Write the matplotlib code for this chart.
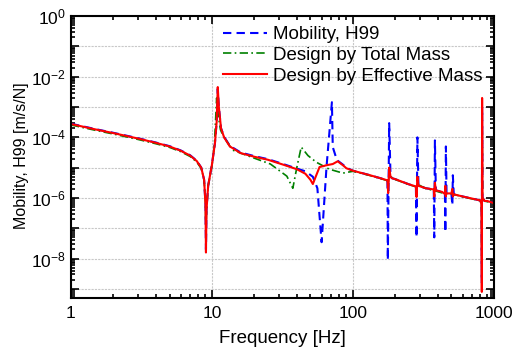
import matplotlib
matplotlib.use("Agg")
import matplotlib.pyplot as plt
import matplotlib.ticker as ticker
import numpy as np

plt.rcParams['font.family'] = ['Liberation Sans', 'DejaVu Sans']
plt.rcParams['mathtext.fontset'] = 'custom'
plt.rcParams['mathtext.rm'] = 'Liberation Sans'
plt.rcParams['mathtext.default'] = 'regular'

# --- data (frequency in Hz, mobility as log10 [m/s/N]) ---
freq_red = [1, 1.5, 2, 3, 4, 5, 6, 7, 7.8, 8.4, 8.8, 9.0, 9.07, 9.15, 9.4, 10, 10.5,
            10.8, 11.0, 11.2, 11.6, 12.2, 13.4, 16, 20, 25, 32, 40, 46, 50, 52, 55,
            58, 65, 72, 78, 85, 90, 100, 130, 160, 176, 178, 181, 185, 190, 200, 250,
            280, 283, 287, 292, 330, 375, 378, 382, 388, 430, 450, 453, 456, 460, 500,
            508, 512, 520, 600, 700, 800, 818, 822, 826, 832, 860, 900, 1000]
logm_red = [-3.56, -3.74, -3.86, -4.04, -4.18, -4.30, -4.44, -4.60, -4.78, -5.0, -5.4, -6.2, -7.8, -6.4, -5.6, -4.9, -4.2,
            -3.5, -2.34, -3.0, -3.7, -4.0, -4.3, -4.52, -4.64, -4.74, -4.9, -5.05, -5.2, -5.4, -5.54, -5.25,
            -4.98, -4.92, -4.88, -4.79, -4.92, -5.02, -5.1, -5.24, -5.36, -5.42, -5.84, -5.0, -5.3, -5.35, -5.38, -5.55,
            -5.62, -5.97, -5.3, -5.6, -5.68, -5.72, -5.95, -5.5, -5.75, -5.8, -5.87, -5.6, -5.95, -5.85, -5.85,
            -5.7, -5.95, -5.88, -5.95, -6.02, -6.08, -6.2, -9.1, -2.7, -6.0, -6.1, -6.1, -6.17]

freq_blue = [1, 1.5, 2, 3, 4, 5, 6, 7, 7.8, 8.4, 8.8, 9.0, 9.07, 9.15, 9.4, 10, 10.5,
             10.8, 11.0, 11.2, 11.6, 12.2, 13.4, 16, 20, 25, 32, 40, 46, 52, 56, 60,
             65, 71, 72, 77, 85, 90, 100, 130, 160, 176, 177, 181, 185, 190, 200, 250,
             280, 283, 287, 292, 330, 375, 378, 382, 388, 430, 450, 453, 457, 462, 500,
             508, 512, 520, 600, 700, 800, 818, 822, 826, 832, 860, 900, 1000]
logm_blue = [-3.55, -3.73, -3.85, -4.03, -4.17, -4.29, -4.43, -4.59, -4.77, -5.0, -5.4, -6.2, -7.7, -6.4, -5.6, -4.9, -4.2,
             -3.5, -2.4, -3.0, -3.7, -3.98, -4.28, -4.5, -4.62, -4.72, -4.88, -5.03, -5.12, -5.3, -5.68, -7.46,
             -4.98, -2.84, -4.32, -4.75, -4.9, -5.0, -5.1, -5.24, -5.36, -5.42, -8.05, -3.53, -5.3, -5.35, -5.38, -5.55,
             -5.62, -7.3, -4.0, -5.6, -5.68, -5.72, -7.3, -4.1, -5.75, -5.8, -5.87, -7.13, -4.3, -5.85, -5.85,
             -6.24, -5.25, -5.88, -5.95, -6.02, -6.08, -6.2, -8.8, -3.0, -6.0, -6.1, -6.1, -6.17]

freq_green = [1, 1.5, 2, 3, 4, 5, 6, 7, 7.8, 8.4, 8.8, 9.0, 9.07, 9.15, 9.4, 10, 10.4,
              10.8, 11.1, 11.5, 12, 14, 19, 26, 34, 37.5, 40, 43, 48, 55, 68, 85, 100,
              130, 160, 176, 178, 181, 185, 200, 250, 280, 284, 288, 330, 380, 450, 510,
              600, 700, 800, 818, 822, 826, 832, 860, 1000]
logm_green = [-3.59, -3.77, -3.89, -4.07, -4.21, -4.33, -4.47, -4.63, -4.81, -5.03, -5.4, -6.2, -7.4, -6.4, -5.6, -4.95, -4.3,
              -2.7, -3.3, -3.75, -3.95, -4.42, -4.65, -4.88, -5.28, -5.68, -5.0, -4.32, -4.6, -4.82, -5.05, -5.18, -5.12,
              -5.25, -5.37, -5.43, -5.6, -5.2, -5.3, -5.39, -5.56, -5.63, -5.75, -5.55, -5.69, -5.76, -5.86, -5.87,
              -5.96, -6.03, -6.09, -6.2, -8.5, -2.9, -6.0, -6.1, -6.18]

labels = ["Mobility, H99", "Design by Total Mass", "Design by Effective Mass"]

fig = plt.figure(figsize=(5.22, 3.51), dpi=100)
ax = fig.add_axes([0.136, 0.151, 0.810, 0.803])

ax.plot(freq_blue, 10 ** np.array(logm_blue), color='#0000ff', lw=1.5,
        linestyle=(0, (4, 2.5)), label=labels[0])
ax.plot(freq_green, 10 ** np.array(logm_green), color='#008000', lw=1.2,
        linestyle=(0, (5, 2, 1, 2)), label=labels[1])
ax.plot(freq_red, 10 ** np.array(logm_red), color='#ff0000', lw=1.5,
        label=labels[2])

ax.set_xscale('log')
ax.set_yscale('log')
ax.set_xlim(1, 1000)
ax.set_ylim(5e-10, 1)

ax.xaxis.set_major_locator(ticker.LogLocator(base=10, numticks=10))
ax.xaxis.set_major_formatter(ticker.FuncFormatter(lambda v, p: "%d" % round(v)))
ax.xaxis.set_minor_locator(ticker.LogLocator(base=10, subs=np.arange(2, 10), numticks=10))
ax.xaxis.set_minor_formatter(ticker.NullFormatter())

ax.yaxis.set_major_locator(ticker.FixedLocator([10.0 ** e for e in range(-9, 1)]))


def yfmt(v, p):
    e = int(round(np.log10(v)))
    if e % 2:
        return ""
    return "$10^{%d}$" % e


ax.yaxis.set_major_formatter(ticker.FuncFormatter(yfmt))
ax.yaxis.set_minor_locator(ticker.LogLocator(base=10, subs=np.arange(2, 10), numticks=20))
ax.yaxis.set_minor_formatter(ticker.NullFormatter())

ax.tick_params(which='both', direction='in', top=True, right=True, width=1.2,
               labelsize=12.5, colors='black')
ax.tick_params(which='major', length=6)
ax.tick_params(which='minor', length=3)
ax.tick_params(axis='x', pad=6)
for s in ax.spines.values():
    s.set_linewidth(1.5)

ax.grid(True, which='major', color='#c8c8c8', linestyle=(0, (2, 1)), lw=0.8)
ax.set_axisbelow(True)

ax.set_xlabel("Frequency [Hz]", fontsize=13.5)
ax.set_ylabel("Mobility, H99 [m/s/N]", fontsize=11.5)
ax.xaxis.set_label_coords(0.5, -0.115)
ax.yaxis.set_label_coords(-0.099, 0.505)

ax.legend(loc='upper left', bbox_to_anchor=(223 / 522, 1 - 26 / 351),
          bbox_transform=fig.transFigure, frameon=False, fontsize=13.5,
          handlelength=2.35, handletextpad=0.3, labelspacing=0.2,
          borderpad=0, borderaxespad=0)

fig.savefig("out.png", dpi=100)
